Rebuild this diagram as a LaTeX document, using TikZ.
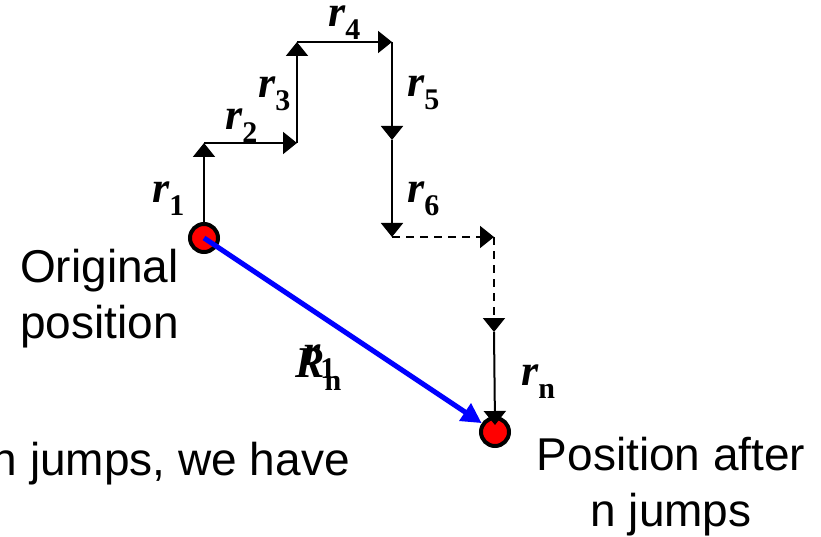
\documentclass[tikz,border=0pt]{standalone}
\usepackage{fontspec}
\setmainfont{Liberation Serif}
\newfontfamily\arialfont{Liberation Sans}
\usetikzlibrary{arrows.meta}
\newcommand{\jmp}[2]{{\fontsize{44}{44}\selectfont\bfseries\itshape #1}\raisebox{-13pt}{\fontsize{30}{30}\selectfont\bfseries #2}}
\tikzset{
  jumpS/.style  ={black, line width=2pt, -{Triangle[length=14pt,width=22pt]}},
  guessS/.style ={jumpS, dash pattern=on 8pt off 6pt},
  totalS/.style ={blue, line width=5pt, -{Triangle[length=20pt,width=20pt]}},
  site/.style   ={circle, draw=black, fill=red, line width=4pt, minimum size=28pt, inner sep=0pt},
  sym/.style    ={anchor=base west, inner sep=0pt},
  caption/.style={font=\arialfont\fontsize{46}{56}\selectfont, inner sep=0pt},
}
\begin{document}
\begin{tikzpicture}[x=1pt, y=-1pt]
  \useasboundingbox (0,0) rectangle (821,537);
  \node[site] (start) at (204,238) {};
  \node[site] (final) at (495,432) {};
  \coordinate (c1) at (204,143);  \coordinate (c2) at (297,143);
  \coordinate (c3) at (297,42);   \coordinate (c4) at (392,42);
  \coordinate (c5) at (392,140);  \coordinate (c6) at (392,237);
  \coordinate (c7) at (494,237);  \coordinate (c8) at (494,332);
  \draw[jumpS] (start) -- (c1);
  \draw[jumpS] (c1) -- (c2);
  \draw[jumpS] (c2) -- (c3);
  \draw[jumpS] (c3) -- (c4);
  \draw[jumpS] (c4) -- (c5);
  \draw[jumpS] (c5) -- (c6);
  \draw[guessS] (c6) -- (c7);
  \draw[guessS] (c7) -- (c8);
  \draw[totalS] (start.center) -- (final);
  \draw[jumpS] (c8) -- ([yshift=-9pt]final.north);
  \node[sym] (l1) at (152,203) {\jmp{r}{1}};
  \node[sym] (l2) at (225,130) {\jmp{r}{2}};
  \node[sym] (l3) at (258,98)  {\jmp{r}{3}};
  \node[sym] (l4) at (328,27)  {\jmp{r}{4}};
  \node[sym] (l5) at (407,97)  {\jmp{r}{5}};
  \node[sym] (l6) at (407,203) {\jmp{r}{6}};
  \node[sym] (ln) at (521,385) {\jmp{r}{n}};
  \node[sym] (l1b) at (303,365) {\jmp{r}{1}};
  \node[sym] (lR) at (295,377) {\jmp{R}{n}};
  \node[caption, align=left, anchor=base west] (orig) at (20,338) {Original\\position};
  \node[caption, anchor=base east] (have) at (350,475) {n jumps, we have};
  \node[caption, align=center, anchor=base] (after) at (671,526) {Position after\\n jumps};
\end{tikzpicture}
\end{document}
